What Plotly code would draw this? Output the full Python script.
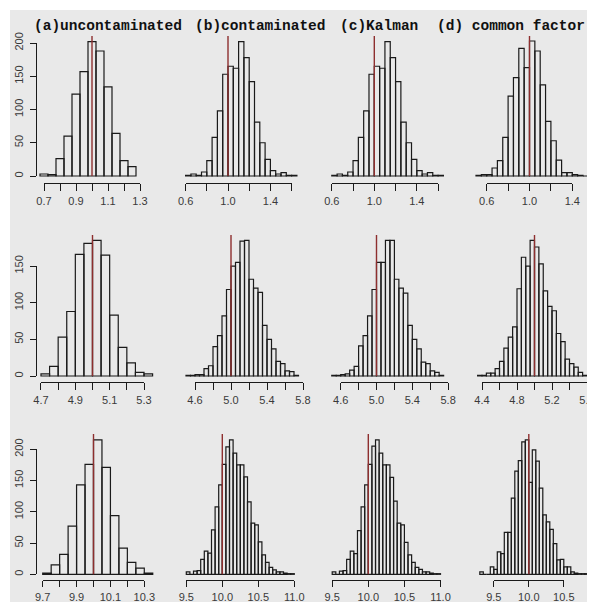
import plotly.graph_objects as go

# page is drawn inside the default 8px body margin
OFF = 8
W, H = 595, 602
FW, FH = W - OFF, H - OFF

# ---------------- data ----------------
titles = ["(a)uncontaminated", "(b)contaminated", "(c)Kalman", "(d) common factor"]
true_values = [1.0, 5.0, 10.0]
bin_width = 0.05

bin_start = [[0.675, 0.60, 0.60, 0.50],
             [4.70, 4.50, 4.50, 4.35],
             [9.70, 9.50, 9.50, 9.30]]

counts_r1c1 = [3, 2, 26, 60, 123, 157, 202, 188, 134, 64, 23, 14]
counts_r1c2 = [1, 3, 1, 6, 23, 58, 98, 153, 165, 162, 202, 178, 142, 81, 50, 25, 8, 3, 5, 1, 1]
counts_r1c3 = [1, 3, 1, 6, 23, 58, 98, 153, 165, 162, 202, 178, 142, 81, 50, 25, 8, 3, 5, 1, 1]
counts_r1c4 = [1, 2, 2, 12, 23, 58, 120, 148, 192, 163, 203, 188, 137, 82, 53, 24, 5, 5, 2, 1, 0, 1]

counts_r2c1 = [3, 13, 53, 88, 166, 181, 185, 165, 83, 39, 18, 5, 3]
counts_r2c2 = [1, 1, 2, 2, 10, 14, 40, 55, 82, 118, 150, 155, 184, 185, 132, 120, 114, 69, 50, 37, 20, 17, 7, 6, 1]
counts_r2c3 = [1, 1, 2, 3, 8, 13, 41, 55, 82, 118, 155, 155, 185, 185, 132, 120, 113, 69, 50, 37, 19, 17, 7, 5, 1]
counts_r2c4 = [1, 1, 4, 4, 10, 20, 38, 53, 67, 119, 162, 150, 185, 176, 153, 116, 95, 89, 58, 47, 23, 17, 12, 5, 1]

counts_r3c1 = [2, 15, 32, 77, 143, 176, 215, 171, 94, 42, 19, 10, 2]
counts_r3c2 = [4, 0, 5, 6, 24, 37, 34, 71, 108, 143, 176, 204, 215, 194, 175, 175, 156, 116, 82, 79, 52, 31, 19, 11, 7, 4, 4, 2, 1, 1]
counts_r3c3 = [4, 0, 5, 6, 24, 37, 33, 70, 108, 143, 176, 205, 215, 194, 175, 175, 155, 117, 82, 79, 51, 31, 19, 11, 8, 4, 4, 2, 1, 1]
counts_r3c4 = [4, 0, 0, 12, 8, 36, 33, 67, 67, 122, 165, 182, 212, 215, 147, 199, 181, 138, 95, 84, 72, 49, 23, 24, 12, 12, 4, 2, 1, 1, 1]

counts = [[counts_r1c1, counts_r1c2, counts_r1c3, counts_r1c4],
          [counts_r2c1, counts_r2c2, counts_r2c3, counts_r2c4],
          [counts_r3c1, counts_r3c2, counts_r3c3, counts_r3c4]]

ticks_a1 = [0.7, 0.8, 0.9, 1.0, 1.1, 1.2, 1.3]
labels_a1 = ["0.7", "", "0.9", "", "1.1", "", "1.3"]
ticks_b1 = [0.6, 0.8, 1.0, 1.2, 1.4, 1.6]
labels_b1 = ["0.6", "", "1.0", "", "1.4", ""]
ticks_d1 = [0.6, 0.8, 1.0, 1.2, 1.4]
labels_d1 = ["0.6", "", "1.0", "", "1.4"]

ticks_a2 = [4.7, 4.8, 4.9, 5.0, 5.1, 5.2, 5.3]
labels_a2 = ["4.7", "", "4.9", "", "5.1", "", "5.3"]
ticks_b2 = [4.6, 4.8, 5.0, 5.2, 5.4, 5.6, 5.8]
labels_b2 = ["4.6", "", "5.0", "", "5.4", "", "5.8"]
ticks_d2 = [4.4, 4.6, 4.8, 5.0, 5.2, 5.4, 5.6]
labels_d2 = ["4.4", "", "4.8", "", "5.2", "", "5.6"]

ticks_a3 = [9.7, 9.8, 9.9, 10.0, 10.1, 10.2, 10.3]
labels_a3 = ["9.7", "", "9.9", "", "10.1", "", "10.3"]
ticks_b3 = [9.5, 10.0, 10.5, 11.0]
labels_b3 = ["9.5", "10.0", "10.5", "11.0"]
ticks_d3 = [9.5, 10.0, 10.5]
labels_d3 = ["9.5", "10.0", "10.5"]

x_ticks = [[ticks_a1, ticks_b1, ticks_b1, ticks_d1],
           [ticks_a2, ticks_b2, ticks_b2, ticks_d2],
           [ticks_a3, ticks_b3, ticks_b3, ticks_d3]]
x_labels = [[labels_a1, labels_b1, labels_b1, labels_d1],
            [labels_a2, labels_b2, labels_b2, labels_d2],
            [labels_a3, labels_b3, labels_b3, labels_d3]]

y_ticks = [[0, 50, 100, 150, 200], [0, 50, 100, 150], [0, 50, 100, 150, 200]]

# ---------------- layout geometry (window pixels) ----------------
row_base = [176.0, 376.0, 574.3]     # pixel of count 0
row_k = [0.665, 0.733, 0.625]        # pixels per count
row_axis = [182.5, 381.5, 580.0]     # x-axis line pixel
row_top = [36.0, 235.0, 434.0]       # top of plot region
row_ticklen = [7, 7, 6]
# (reference value, pixel of reference value, pixels per unit)
xmap = [[(1.0, 92.0, 160.0), (1.0, 228.0, 106.0), (1.0, 374.3, 106.3), (1.0, 529.5, 107.0)],
        [(5.0, 92.5, 171.7), (5.0, 231.0, 90.0), (5.0, 376.5, 89.5), (5.0, 534.5, 87.5)],
        [(10.0, 93.5, 169.3), (10.0, 222.3, 72.0), (10.0, 368.3, 72.2), (10.0, 528.8, 70.0)]]
col_span = [(10, 162), (165, 312), (315, 462), (465, 595)]
yaxis_px = 36.0


def px_x(px):
    return (px - OFF) / FW


def px_y(py):
    return 1 - (py - OFF) / FH


BG = "#e9e9e9"
INK = "#1a1a1a"
RED = "#8e2f2f"
tickfont = dict(family="Liberation Sans, Arial, sans-serif", size=11, color="#3a3a3a")

fig = go.Figure()
layout = {}

for r in range(3):
    for c in range(4):
        i = r * 4 + c
        xb, yb, xt = f"x{i+1}", f"y{i+1}", f"x{i+13}"
        v_ref, p_ref, s = xmap[r][c]
        px0, px1 = col_span[c]
        layout[f"xaxis{i+1}"] = dict(domain=[px_x(px0), px_x(px1)],
                                     range=[v_ref + (px0 - p_ref) / s, v_ref + (px1 - p_ref) / s],
                                     anchor=yb, visible=False, fixedrange=True)
        ybot = (row_base[r] - row_axis[r]) / row_k[r]
        ytop = (row_base[r] - row_top[r]) / row_k[r]
        layout[f"yaxis{i+1}"] = dict(domain=[px_y(row_axis[r]), px_y(row_top[r])],
                                     range=[ybot, ytop], anchor=xb, visible=False, fixedrange=True)
        tv = x_ticks[r][c]
        t0, t1 = tv[0], tv[-1]
        layout[f"xaxis{i+13}"] = dict(
            domain=[px_x(p_ref + (t0 - v_ref) * s), px_x(p_ref + (t1 - v_ref) * s)],
            range=[t0, t1], anchor=yb, showline=True, linecolor=INK, linewidth=1.3,
            ticks="outside", ticklen=row_ticklen[r], tickwidth=1.3, tickcolor=INK,
            tickmode="array", tickvals=tv, ticktext=x_labels[r][c],
            showgrid=False, zeroline=False, tickfont=tickfont, ticklabelstandoff=1,
            ticklabeloverflow="allow", fixedrange=True)

        cnt = counts[r][c]
        centers = [bin_start[r][c] + bin_width * (j + 0.5) for j in range(len(cnt))]
        fig.add_trace(go.Bar(x=centers, y=cnt, width=bin_width, xaxis=xb, yaxis=yb,
                             marker=dict(color="rgba(0,0,0,0)", line=dict(color=INK, width=1.2)),
                             hoverinfo="skip", showlegend=False))
        tval = true_values[r]
        fig.add_trace(go.Scatter(x=[tval, tval], y=[0, ytop], mode="lines", xaxis=xb, yaxis=yb,
                                 line=dict(color=RED, width=1.4), hoverinfo="skip", showlegend=False))
        fig.add_trace(go.Scatter(x=tv, y=[None] * len(tv), mode="markers", xaxis=xt, yaxis=yb,
                                 marker=dict(opacity=0), hoverinfo="skip", showlegend=False))

    # left y axis (first column only)
    ya = f"yaxis{13+r}"
    ymax = y_ticks[r][-1]
    layout[ya] = dict(domain=[px_y(row_base[r]), px_y(row_base[r] - ymax * row_k[r])],
                      range=[0, ymax], anchor="free", position=px_x(yaxis_px),
                      showline=True, linecolor=INK, linewidth=1.3,
                      ticks="outside", ticklen=6, tickwidth=1.3, tickcolor=INK,
                      tickmode="array", tickvals=y_ticks[r], tickangle=-90,
                      showgrid=False, zeroline=False, tickfont=tickfont, ticklabelstandoff=2,
                      fixedrange=True)
    fig.add_trace(go.Scatter(x=[None] * len(y_ticks[r]), y=y_ticks[r], mode="markers",
                             xaxis=f"x{r*4+13}", yaxis=f"y{13+r}",
                             marker=dict(opacity=0), hoverinfo="skip", showlegend=False))

title_px = [32, 193, 338, 435]
annotations = [dict(text=t, xref="paper", yref="paper", x=px_x(title_px[j]), y=px_y(26),
                    xanchor="left", yanchor="middle", showarrow=False,
                    font=dict(family="Liberation Mono, Courier New, monospace", size=14.5,
                              color="#111", weight="bold"))
               for j, t in enumerate(titles)]

fig.update_layout(
    width=FW, height=FH, margin=dict(l=0, r=0, t=0, b=0),
    paper_bgcolor="white", plot_bgcolor="rgba(0,0,0,0)",
    template="none", showlegend=False, annotations=annotations,
    shapes=[dict(type="rect", xref="paper", yref="paper", x0=px_x(10), x1=1, y0=0, y1=px_y(10),
                 fillcolor=BG, line=dict(width=0), layer="below")],
    **layout)

fig.write_html("out.html")
